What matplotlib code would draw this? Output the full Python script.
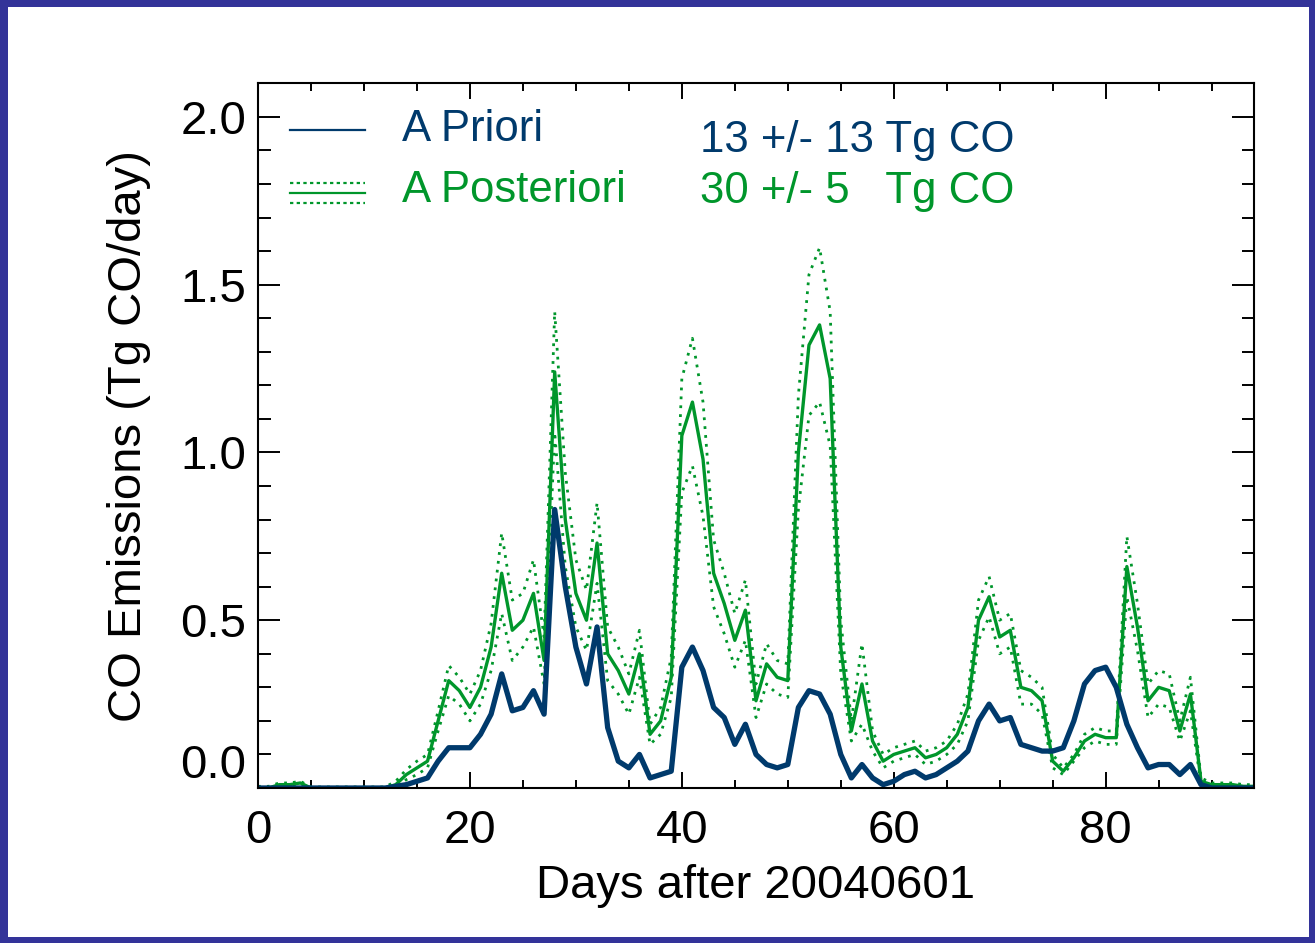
import numpy as np
import matplotlib
matplotlib.use('Agg')
import matplotlib.pyplot as plt
from matplotlib.patches import Rectangle
from matplotlib.ticker import MultipleLocator, FormatStrFormatter

# daily CO emissions (Tg CO/day)
days = np.arange(95)

apriori = [0.0, 0.0, 0.0, 0.0, 0.0, 0.0, 0.0, 0.0, 0.0, 0.0,
           0.0, 0.0, 0.0, 0.005, 0.01, 0.02, 0.03, 0.08, 0.12, 0.12,
           0.12, 0.16, 0.22, 0.34, 0.23, 0.24, 0.29, 0.22, 0.83, 0.6,
           0.42, 0.31, 0.48, 0.18, 0.08, 0.06, 0.1, 0.03, 0.04, 0.05,
           0.36, 0.42, 0.35, 0.24, 0.21, 0.13, 0.19, 0.1, 0.07, 0.06,
           0.07, 0.24, 0.29, 0.28, 0.22, 0.1, 0.03, 0.07, 0.03, 0.01,
           0.02, 0.04, 0.05, 0.03, 0.04, 0.06, 0.08, 0.11, 0.2, 0.25,
           0.2, 0.21, 0.13, 0.12, 0.11, 0.11, 0.12, 0.2, 0.31, 0.35,
           0.36, 0.3, 0.19, 0.12, 0.06, 0.07, 0.07, 0.04, 0.07, 0.01,
           0.0, 0.0, 0.0, 0.0, 0.0]

aposteriori = [0.0, 0.0, 0.01, 0.01, 0.015, 0.0, 0.0, 0.0, 0.0, 0.0,
               0.0, 0.0, 0.0, 0.01, 0.04, 0.06, 0.08, 0.2, 0.32, 0.29,
               0.24, 0.3, 0.42, 0.64, 0.47, 0.5, 0.58, 0.38, 1.24, 0.8,
               0.58, 0.5, 0.73, 0.4, 0.35, 0.28, 0.4, 0.16, 0.2, 0.33,
               1.05, 1.15, 0.98, 0.64, 0.55, 0.44, 0.53, 0.26, 0.37, 0.33,
               0.32, 1.0, 1.32, 1.38, 1.22, 0.42, 0.17, 0.31, 0.14, 0.08,
               0.1, 0.11, 0.12, 0.09, 0.1, 0.12, 0.16, 0.24, 0.5, 0.57,
               0.45, 0.47, 0.3, 0.29, 0.26, 0.08, 0.05, 0.09, 0.14, 0.16,
               0.15, 0.15, 0.66, 0.48, 0.26, 0.3, 0.29, 0.17, 0.28, 0.02,
               0.01, 0.01, 0.01, 0.005, 0.005]

aposteriori_err = [0.005, 0.005, 0.005, 0.005, 0.005, 0.003, 0.003, 0.003, 0.003, 0.003,
                   0.003, 0.003, 0.003, 0.01, 0.015, 0.02, 0.02, 0.03, 0.045, 0.04,
                   0.04, 0.05, 0.07, 0.12, 0.09, 0.08, 0.1, 0.07, 0.18, 0.14,
                   0.1, 0.09, 0.12, 0.08, 0.07, 0.06, 0.07, 0.03, 0.04, 0.06,
                   0.17, 0.19, 0.17, 0.1, 0.09, 0.08, 0.09, 0.05, 0.06, 0.05,
                   0.05, 0.17, 0.21, 0.23, 0.2, 0.08, 0.03, 0.12, 0.03, 0.02,
                   0.02, 0.02, 0.02, 0.02, 0.02, 0.02, 0.03, 0.04, 0.06, 0.06,
                   0.05, 0.05, 0.05, 0.04, 0.04, 0.02, 0.01, 0.01, 0.02, 0.02,
                   0.02, 0.02, 0.09, 0.07, 0.05, 0.05, 0.05, 0.03, 0.05, 0.01,
                   0.005, 0.005, 0.005, 0.005, 0.005]

prior_total = '13 +/- 13 Tg CO'
post_total = '30 +/- 5   Tg CO'

blue = '#003a6c'
green = '#00962b'
frame = '#333399'

plt.rcParams['font.family'] = ['Liberation Sans', 'DejaVu Sans']

fig = plt.figure(figsize=(13.15, 9.43), dpi=100)
fig.patch.set_facecolor(frame)
fig.add_artist(Rectangle((8/1315, 6/943), 1301/1315, 930/943,
                         transform=fig.transFigure, facecolor='white',
                         edgecolor='none', zorder=-1))

ax = fig.add_axes([258/1315, 155/943, 996/1315, 704.7/943])

post = np.array(aposteriori)
err = np.array(aposteriori_err)
ax.plot(days, post + err, color=green, lw=2, ls=(0, (1, 2.2)))
ax.plot(days, post - err, color=green, lw=2, ls=(0, (1, 2.2)))
ax.plot(days, post, color=green, lw=2.4)
ax.plot(days, apriori, color=blue, lw=3.8)

ax.set_xlim(0, 94)
ax.set_ylim(0, 2.1)
ax.set_xticks([0, 20, 40, 60, 80])
ax.set_yticks([0.0, 0.5, 1.0, 1.5, 2.0])
ax.xaxis.set_minor_locator(MultipleLocator(5))
ax.yaxis.set_minor_locator(MultipleLocator(0.1))
ax.yaxis.set_major_formatter(FormatStrFormatter('%.1f'))

ax.tick_params(which='both', direction='in', top=True, right=True,
               width=1.4, labelsize=34)
ax.tick_params(axis='x', which='major', length=11.5, pad=15)
ax.tick_params(axis='x', which='minor', length=5.8)
ax.tick_params(axis='y', which='major', length=15.5, pad=8.5)
ax.tick_params(axis='y', which='minor', length=9)
for sp in ax.spines.values():
    sp.set_linewidth(1.5)

ax.set_xlabel('Days after 20040601', fontsize=34, labelpad=8)
ax.set_ylabel('CO Emissions (Tg CO/day)', fontsize=34, labelpad=21)

# legend drawn by hand
lx = [0.032, 0.1074]
ax.plot(lx, [0.934, 0.934], transform=ax.transAxes, color=blue, lw=1.6)
ax.plot(lx, [0.8443, 0.8443], transform=ax.transAxes, color=green, lw=1.6)
ax.plot(lx, [0.858, 0.858], transform=ax.transAxes, color=green, lw=1.6, ls=(0, (1.5, 1.5)))
ax.plot(lx, [0.830, 0.830], transform=ax.transAxes, color=green, lw=1.6, ls=(0, (1.5, 1.5)))
ax.text(0.1446, 0.918, 'A Priori', transform=ax.transAxes, color=blue,
        fontsize=31.5, va='baseline')
ax.text(0.1446, 0.8316, 'A Posteriori', transform=ax.transAxes, color=green,
        fontsize=31.5, va='baseline')
ax.text(0.4438, 0.9025, prior_total, transform=ax.transAxes, color=blue,
        fontsize=31.5, va='baseline')
ax.text(0.4438, 0.830, post_total, transform=ax.transAxes, color=green,
        fontsize=31.5, va='baseline')

fig.canvas.draw()
ax.yaxis.get_major_ticks()[0].label1.set_verticalalignment('bottom')

fig.savefig('out.png', dpi=100, facecolor=fig.get_facecolor())
